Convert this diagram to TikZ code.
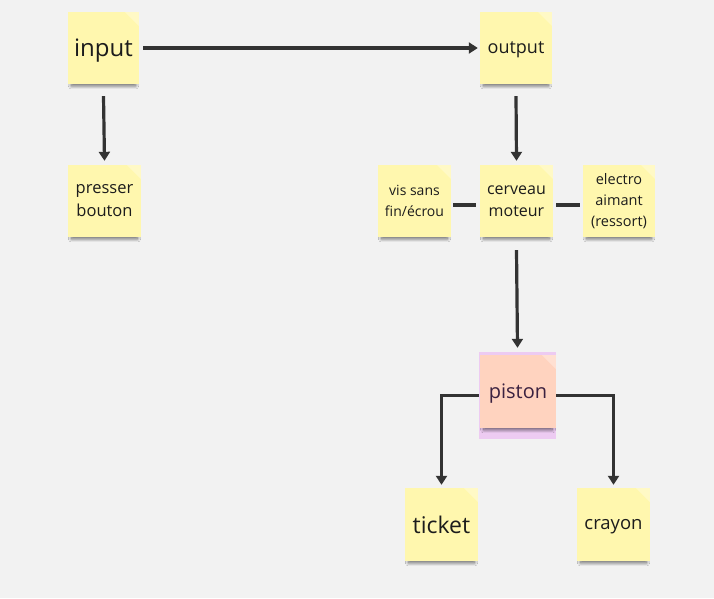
\documentclass[tikz,border=0pt]{standalone}
\usepackage{fontspec}
\setmainfont{Open Sans}
\usetikzlibrary{arrows.meta,shadows.blur}
\definecolor{bg}{HTML}{F2F2F2}
\definecolor{noteyellow}{HTML}{FFF7AE}
\definecolor{notesalmon}{HTML}{FFD3BF}
\definecolor{selpurple}{HTML}{EDCBF2}
\definecolor{linec}{HTML}{333333}
\definecolor{textc}{HTML}{1C1C1C}
\definecolor{pistontext}{HTML}{3B2140}
\tikzset{
  sticky/.style={fill=noteyellow, draw=none, inner sep=0pt, align=center, text=textc,
    minimum width=73pt, minimum height=72pt,
    blur shadow={shadow xshift=0pt, shadow yshift=-6pt, shadow scale=0.9, shadow opacity=60, shadow blur steps=24, shadow blur radius=3.5pt},
    path picture={\fill[white,opacity=0.3] (path picture bounding box.north east) -- ++(-14pt,0pt) -- ++(14pt,-14pt) -- cycle;}},
  oneline/.style={text depth=0pt},
  conn/.style={draw=linec, line width=3.2pt},
  arr/.style={conn, -{Triangle[length=9pt,width=11pt]}},
}
\newcommand{\fs}[2]{\fontsize{#1}{#2}\selectfont}
\begin{document}
\begin{tikzpicture}[x=1pt,y=-1pt]
\fill[bg] (0,0) rectangle (714,598);
\useasboundingbox (0,0) rectangle (714,598);

\node[sticky, oneline, minimum width=71pt, font=\fs{24}{28}] (input) at (103.5,48) {input};
\node[sticky, oneline, minimum width=72pt, font=\fs{18}{22}] (output) at (516,48) {output};
\node[sticky, font=\fs{16.5}{23}] (presser) at (104.5,201) {presser\\bouton};
\node[sticky, font=\fs{14}{20.5}] (vis) at (414.5,201) {vis sans\\fin/écrou};
\node[sticky, font=\fs{16}{22}] (cerveau) at (516.5,201) {cerveau\\moteur};
\node[sticky, minimum width=72pt, font=\fs{14.5}{21}] (electro) at (619,201) {electro\\aimant\\(ressort)};

\node[fill=selpurple, draw=none, minimum width=77pt, minimum height=87pt, inner sep=0pt] (pistonsel) at (517.5,395.5) {};
\node[sticky, oneline, fill=notesalmon, text=pistontext, minimum width=76pt, minimum height=73pt, font=\fs{20}{24}] (piston) at (518,391.5) {piston};

\node[sticky, oneline, minimum height=73pt, font=\fs{23}{27}] (ticket) at (441.5,524.5) {ticket};
\node[sticky, oneline, minimum height=73pt, font=\fs{18.5}{22}] (crayon) at (613.5,524.5) {crayon};

\draw[arr] ([xshift=4pt]input.east) -- ([xshift=-2pt]output.west);
\draw[arr] ([yshift=-12pt]input.south) -- ([yshift=4pt]presser.north);
\draw[arr] ([yshift=-12pt]output.south) -- ([yshift=4pt]cerveau.north);
\draw[conn] ([xshift=2pt,yshift=-4pt]vis.east) -- ([xshift=-4pt,yshift=-4pt]cerveau.west);
\draw[conn] ([xshift=3pt,yshift=-4pt]cerveau.east) -- ([xshift=-3pt,yshift=-4pt]electro.west);
\draw[arr] ([yshift=-13pt]cerveau.south) -- ([yshift=4pt]pistonsel.north);
\draw[arr] (pistonsel.west) -| ([yshift=3pt]ticket.north);
\draw[arr] (pistonsel.east) -| ([yshift=3pt]crayon.north);
\end{tikzpicture}
\end{document}
